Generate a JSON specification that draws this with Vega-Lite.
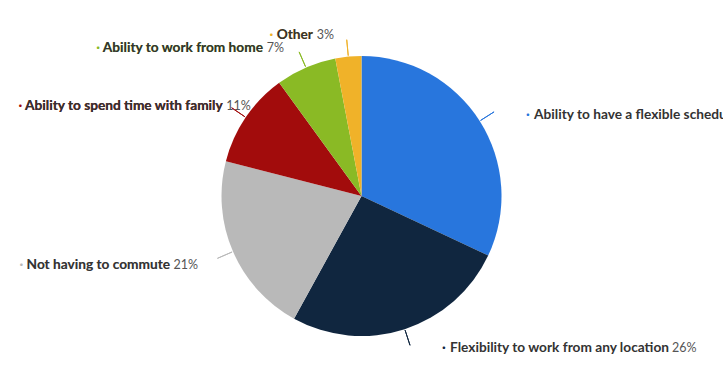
{
  "$schema": "https://vega.github.io/schema/vega-lite/v6.json",
  "width": 723,
  "height": 372,
  "autosize": {"type": "fit", "contains": "padding"},
  "padding": {"left": 0, "right": 0, "top": 20, "bottom": 0},
  "background": "white",
  "view": {"stroke": null},
  "data": {
    "values": [
      {"reason": "Ability to have a flexible schedule", "share": 0.32, "rank": 1},
      {"reason": "Flexibility to work from any location", "share": 0.26, "rank": 2},
      {"reason": "Not having to commute", "share": 0.21, "rank": 3},
      {"reason": "Ability to spend time with family", "share": 0.11, "rank": 4},
      {"reason": "Ability to work from home", "share": 0.07, "rank": 5},
      {"reason": "Other", "share": 0.03, "rank": 6}
    ]
  },
  "encoding": {
    "theta": {"field": "share", "type": "quantitative", "stack": true},
    "order": {"field": "rank", "type": "quantitative"}
  },
  "layer": [
    {
      "mark": {"type": "arc", "outerRadius": 140},
      "encoding": {
        "color": {
          "field": "reason", "type": "nominal", "legend": null,
          "scale": {
            "domain": ["Ability to have a flexible schedule", "Flexibility to work from any location", "Not having to commute", "Ability to spend time with family", "Ability to work from home", "Other"],
            "range": ["#2876dd", "#10263f", "#b9b9b9", "#a20c0c", "#8aba25", "#f0b229"]
          }
        }
      }
    },
    {
      "mark": {"type": "arc", "outerRadius": 157, "innerRadius": 141, "padAngle": 3, "filled": false, "strokeWidth": 1},
      "encoding": {
        "color": {"field": "reason", "type": "nominal", "legend": null}
      }
    },
    {
      "transform": [{"calculate": "datum.rank <= 2 ? '·' : '·  ' + datum.reason", "as": "dotlabel"}],
      "mark": {
        "type": "text", "font": "Lato", "fontWeight": "bold", "fontSize": 13.7,
        "baseline": "middle", "clip": true,
        "radius": {"expr": "datum.rank <= 2 ? 157 : 165"},
        "align": {"expr": "datum.rank <= 2 ? 'left' : 'right'"},
        "dx": {"expr": "datum.rank <= 2 ? 32 : max(-12, 56 + 5.9 * length(datum.reason) - (width / 2 + 165 * sin(PI * (datum.share_start + datum.share_end)))) - (datum.share < 0.1 ? 21 : 28)"},
        "dy": 3
      },
      "encoding": {
        "text": {"field": "dotlabel", "type": "nominal"},
        "color": {"field": "reason", "type": "nominal", "legend": null}
      }
    },
    {
      "mark": {
        "type": "text", "font": "Lato", "fontWeight": "bold", "fontSize": 13.7, "color": "#333333",
        "baseline": "middle", "clip": true,
        "radius": {"expr": "datum.rank <= 2 ? 157 : 165"},
        "align": {"expr": "datum.rank <= 2 ? 'left' : 'right'"},
        "dx": {"expr": "datum.rank <= 2 ? 40 : max(-12, 56 + 5.9 * length(datum.reason) - (width / 2 + 165 * sin(PI * (datum.share_start + datum.share_end)))) - (datum.share < 0.1 ? 21 : 28)"},
        "dy": 3
      },
      "encoding": {
        "text": {"field": "reason", "type": "nominal"},
        "detail": {"field": "reason", "type": "nominal"}
      }
    },
    {
      "mark": {
        "type": "text", "font": "Lato", "fontWeight": "normal", "fontSize": 12.5, "color": "#555555",
        "baseline": "middle", "clip": true,
        "radius": {"expr": "datum.rank <= 2 ? 157 : 165"},
        "align": {"expr": "datum.rank <= 2 ? 'left' : 'right'"},
        "dx": {"expr": "datum.rank == 2 ? 262 : (datum.rank == 1 ? 266 : max(-12, 56 + 5.9 * length(datum.reason) - (width / 2 + 165 * sin(PI * (datum.share_start + datum.share_end)))))"},
        "dy": 3
      },
      "encoding": {
        "text": {"field": "share", "type": "quantitative", "format": ".0%"},
        "detail": {"field": "reason", "type": "nominal"}
      }
    }
  ]
}
